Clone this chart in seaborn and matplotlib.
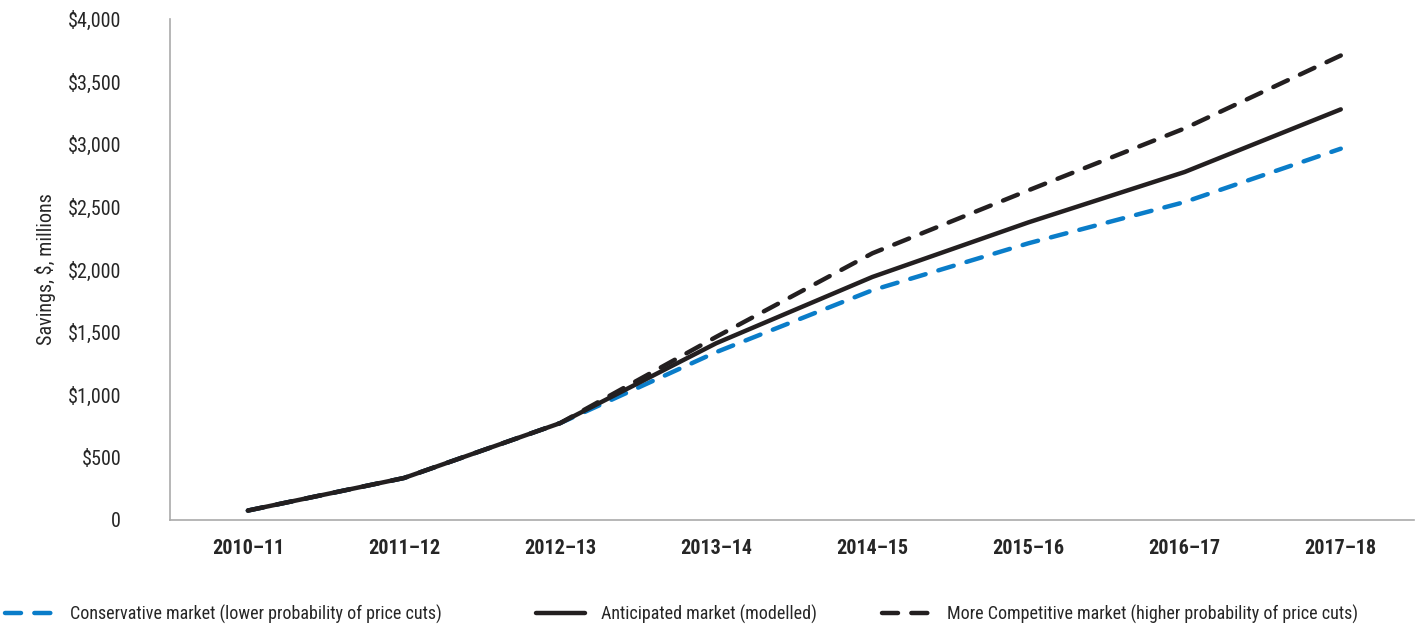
import matplotlib
matplotlib.use("Agg")
import matplotlib.pyplot as plt
import seaborn as sns
import pandas as pd
from matplotlib import font_manager
from matplotlib.ticker import FixedLocator

years = ["2010–11", "2011–12", "2012–13", "2013–14", "2014–15", "2015–16", "2016–17", "2017–18"]
conservative = [75, 335, 773, 1340, 1834, 2209, 2538, 2964]
anticipated = [75, 335, 773, 1411, 1940, 2376, 2778, 3278]
competitive = [75, 335, 773, 1462, 2129, 2632, 3126, 3708]
yticks = [0, 500, 1000, 1500, 2000, 2500, 3000, 3500, 4000]
ytick_labels = ["0", "$500", "$1,000", "$1,500", "$2,000", "$2,500", "$3,000", "$3,500", "$4,000"]
names = ["Conservative market (lower probability of price cuts)",
         "Anticipated market (modelled)",
         "More Competitive market (higher probability of price cuts)"]

sns.set_style("white")
fonts = font_manager.fontManager.ttflist
avail = {f.name for f in fonts}
stretch = "normal"
fam = None
for cand in ["Roboto Condensed", "Open Sans Condensed", "Liberation Sans Narrow", "Noto Sans Condensed"]:
    if cand in avail:
        fam = cand
        break
if fam is None:
    cond = [f for f in fonts if f.name in ("DejaVu Sans", "Noto Sans", "Roboto", "Open Sans")
            and ("ondensed" in f.fname or (isinstance(f.stretch, str) and "condensed" in f.stretch))]
    if cond:
        fam = cond[0].name
        stretch = "condensed"
    else:
        fam = "DejaVu Sans"
plt.rcParams["font.family"] = [fam, "DejaVu Sans"]
plt.rcParams["font.stretch"] = stretch

fs = 14.5
lfs = 13
fig = plt.figure(figsize=(14.27, 6.31), dpi=100)
ax = fig.add_axes([0.119, 0.176, 0.872, 0.794])

blue = "#0a7dc9"
black = "#231f20"

df = pd.DataFrame({"year": years, "c": conservative, "a": anticipated, "m": competitive})

sns.lineplot(data=df, x="year", y="c", ax=ax, color=blue, linewidth=3.2, sort=False, label=names[0])
sns.lineplot(data=df, x="year", y="m", ax=ax, color=black, linewidth=3.2, sort=False, label=names[2])
sns.lineplot(data=df, x="year", y="a", ax=ax, color=black, linewidth=3.2, sort=False, label=names[1])
lines = ax.get_lines()
lines[0].set_dashes([3.6, 3.0])
lines[1].set_dashes([3.6, 3.0])
for ln in lines:
    ln.set_solid_capstyle("round")
    ln.set_dash_capstyle("round")

ax.set_xlim(-0.5, 7.47)
ax.set_ylim(0, 4000)
ax.set_yticks(yticks)
ax.set_yticklabels(ytick_labels, fontsize=fs)
ax.set_xticks(range(len(years)))
ax.set_xticklabels(years, fontsize=fs, fontweight="bold")
ax.xaxis.set_minor_locator(FixedLocator([i - 0.5 for i in range(len(years) + 1)]))
ax.tick_params(axis="x", which="major", length=0, pad=14)
ax.tick_params(axis="x", which="minor", length=7, color="#aaaaaa", width=1.2, direction="out")
ax.tick_params(axis="y", length=7, color="#aaaaaa", width=1.2, direction="out", pad=28)
ax.set_xlabel("")
ax.set_ylabel("Savings, $, millions", fontsize=fs, labelpad=8)

for s in ["top", "right"]:
    ax.spines[s].set_visible(False)
for s in ["left", "bottom"]:
    ax.spines[s].set_color("#aaaaaa")
    ax.spines[s].set_linewidth(1.2)

ax.get_legend().remove()
entries = [(lines[0], names[0], 0.0), (lines[2], names[1], 0.372), (lines[1], names[2], 0.614)]
for h, n, x in entries:
    fig.legend([h], [n], loc="center left", bbox_to_anchor=(x, 0.027), frameon=False,
               fontsize=lfs, handlelength=2.7, handletextpad=0.9, borderaxespad=0.0,
               borderpad=0.3)

fig.savefig("out.png", dpi=100)
